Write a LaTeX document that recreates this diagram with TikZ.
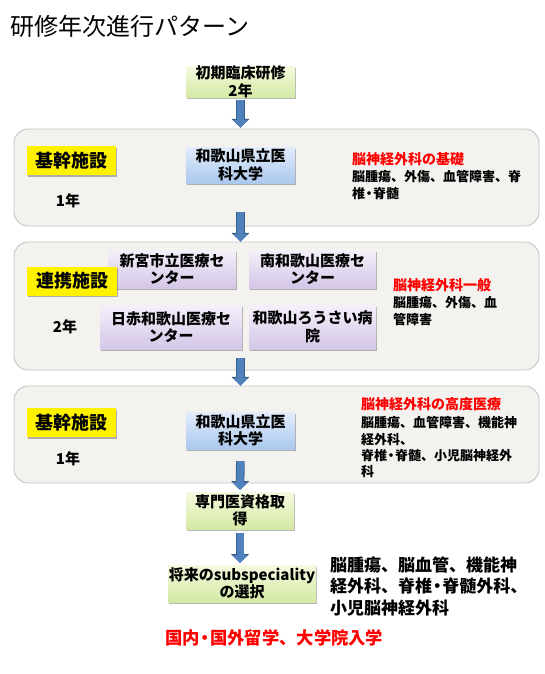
\documentclass[tikz,border=0pt]{standalone}
\usepackage{fontspec}
\newfontfamily\jp{Noto Sans CJK JP}
\usetikzlibrary{arrows.meta,shadows,calc}
\newcommand{\nkg}{\kern-0.2em・\kern-0.2em}
\definecolor{outerfill}{HTML}{F4F2EF}
\definecolor{outerline}{HTML}{C4C4C4}
\definecolor{arrowfill}{HTML}{4F81BD}
\definecolor{arrowline}{HTML}{385D8A}
\definecolor{greentop}{HTML}{F5FADF}
\definecolor{greenbot}{HTML}{D3E9A4}
\definecolor{bluetop}{HTML}{E2EDFB}
\definecolor{bluebot}{HTML}{ABC8EE}
\definecolor{purptop}{HTML}{F4F0FA}
\definecolor{purpbot}{HTML}{D4C6E7}
\definecolor{redtext}{HTML}{FF0000}
\begin{document}
\begin{tikzpicture}[x=1pt,y=-1pt,
  outerbox/.style={draw=outerline, fill=outerfill, line width=0.9pt, rounded corners=14pt, inner sep=0pt},
  shadowed/.style={drop shadow={shadow xshift=1.2pt, shadow yshift=-1.6pt, opacity=0.28, fill=black}},
  boxtext/.style={font=\jp\bfseries\fontsize{15}{17.5}\selectfont, align=center, inner sep=0pt, text=black},
  greenbox/.style={boxtext, shadowed, top color=greentop, bottom color=greenbot, draw=none},
  bluebox/.style={boxtext, shadowed, top color=bluetop, bottom color=bluebot, draw=none},
  purplebox/.style={boxtext, shadowed, top color=purptop, bottom color=purpbot, draw=none},
  yellowbox/.style={shadowed, fill=yellow, inner sep=0pt, font=\jp\bfseries\fontsize{18}{20}\selectfont},
  yeartext/.style={font=\jp\bfseries\fontsize{15}{17}\selectfont, inner sep=0pt},
  redhead/.style={font=\jp\bfseries\fontsize{14}{16}\selectfont, text=redtext, inner sep=0pt, anchor=north west, align=left},
  bodytext/.style={font=\jp\bfseries\fontsize{13}{#1}\selectfont, inner sep=0pt, anchor=north west, align=left},
  bigtext/.style={font=\jp\bfseries\fontsize{17}{21.5}\selectfont, inner sep=0pt, anchor=north west, align=left},
  bluearrow/.style={draw=arrowfill, line width=7pt, -{Triangle[width=15pt,length=7.5pt]},
    preaction={draw=arrowline, line width=8.6pt, -{Triangle[width=17.4pt,length=8.7pt]}}}
]
\useasboundingbox (0,0) rectangle (544,674);
\fill[white] (0,0) rectangle (544,674);

% title
\node[anchor=west, inner sep=0pt, font=\jp\fontsize{24}{26}\selectfont] (title) at (10,26) {研修年次進行パターン};

% outer boxes
\node[outerbox, minimum width=525pt, minimum height=97pt] (o1) at (276.5,177.5) {};
\node[outerbox, minimum width=525pt, minimum height=128pt] (o2) at (276.5,306) {};
\node[outerbox, minimum width=525pt, minimum height=97pt] (o3) at (276.5,434.5) {};

% top box
\node[greenbox, minimum width=109pt, minimum height=30pt] (g1) at (240.5,82) {\fontsize{15}{18}\selectfont 初期臨床研修\\2年};

% block 1
\node[yellowbox, minimum width=89pt, minimum height=29pt] (y1) at (71.5,160.5) {基幹施設};
\node[yeartext] (yr1) at (68,201) {1年};
\node[bluebox, minimum width=109pt, minimum height=36pt] (b1) at (240.5,165) {和歌山県立医\\科大学};
\node[redhead] (r1) at (352,152) {脳神経外科の基礎};
\node[bodytext=16.5] (t1) at (352,170.5) {脳腫瘍、外傷、血管障害、脊\\椎\nkg 脊髄};

% block 2
\node[purplebox, minimum width=128pt, minimum height=38pt] (p1) at (172,269) {新宮市立医療セ\\ンター};
\node[purplebox, minimum width=127pt, minimum height=38pt] (p2) at (312.5,269) {南和歌山医療セ\\ンター};
\node[purplebox, minimum width=142pt, minimum height=44pt] (p3) at (171,327) {日赤和歌山医療セ\\ンター};
\node[purplebox, minimum width=127pt, minimum height=44pt] (p4) at (312.5,327) {和歌山ろうさい病\\院};
\node[yellowbox, minimum width=90pt, minimum height=29pt] (y2) at (72,281) {連携施設};
\node[yeartext] (yr2) at (65,327) {2年};
\node[redhead] (r2) at (393,278) {脳神経外科一般};
\node[bodytext=17] (t2) at (393,296.5) {脳腫瘍、外傷、血\\管障害};

% block 3
\node[yellowbox, minimum width=89pt, minimum height=29pt] (y3) at (71.5,422.5) {基幹施設};
\node[yeartext] (yr3) at (68,459) {1年};
\node[bluebox, minimum width=109pt, minimum height=37pt] (b3) at (240.5,430.5) {和歌山県立医\\科大学};
\node[redhead] (r3) at (361,397) {脳神経外科の高度医療};
\node[bodytext=16.3] (t3) at (361,416.5) {脳腫瘍、血管障害、機能神\\経外科、\\脊椎\nkg 脊髄、小児脳神経外\\科};

% bottom boxes
\node[greenbox, minimum width=108pt, minimum height=37pt] (g2) at (240,510.5) {専門医資格取\\得};
\node[greenbox, minimum width=148pt, minimum height=37pt] (s1) at (242,583.5) {将来のsubspeciality\\の選択};
\node[bigtext] (bt) at (330,556.5) {脳腫瘍、脳血管、機能神\\経外科、脊椎\nkg 脊髄外科、\\小児脳神経外科};
\node[anchor=west, inner sep=0pt, text=redtext, font=\jp\bfseries\fontsize{17.3}{19}\selectfont] (rb) at (165,638) {国内\nkg 国外留学、大学院入学};

% arrows
\draw[bluearrow, shorten <=2pt, shorten >=1pt] (g1.south) -- (g1.south |- o1.north);
\draw[bluearrow, shorten <=29pt] (b1.south) -- (b1.south |- o2.north);
\draw[bluearrow, shorten <=9pt] (b3.north |- p3.south) -- (b3.north |- o3.north);
\draw[bluearrow, shorten <=12pt, shorten >=2pt] (b3.south) -- (g2.north);
\draw[bluearrow, shorten <=4pt, shorten >=2pt] (g2.south) -- (g2.south |- s1.north);
\end{tikzpicture}
\end{document}
